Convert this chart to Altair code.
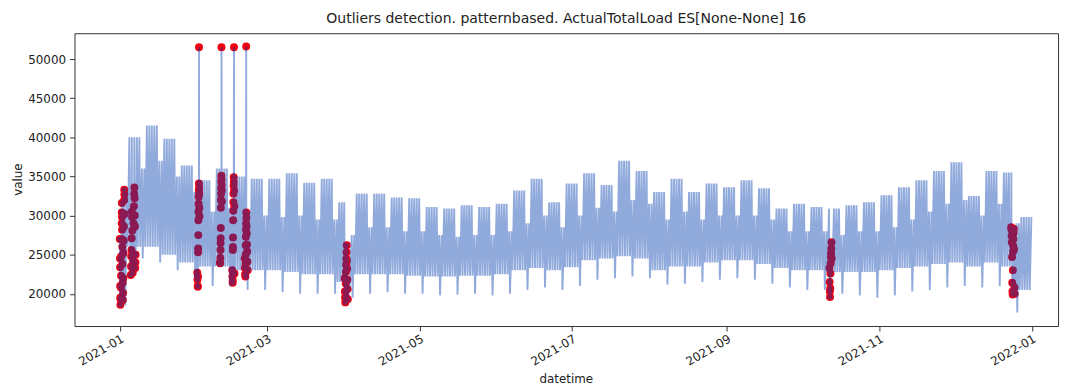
import altair as alt
import pandas as pd

# ---- weekly envelope values (weeks start Monday; first week = 2020-12-28) ----
week_peak = [31000, 40000, 41500, 39800, 36400, 34500, 36000, 35000, 34700, 34700, 35400, 34200, 34700,
             31700, 32800, 32800, 32300, 32200, 31100, 30900, 31300, 31100, 31500, 33200, 34700, 31700,
             34100, 35400, 33900, 37000, 35700, 33000, 34700, 33000, 34100, 33600, 34500, 33500, 30900,
             31500, 31100, 30900, 31300, 31700, 32600, 33600, 34500, 35700, 36800, 32500, 35700, 35500, 29800]
weekend_peak = [33000, 36000, 37000, 35000, 33000, 30500, 31000, 30500, 30000, 29800, 30000, 29500, 29500,
                27500, 28500, 28500, 28000, 28000, 27500, 27300, 27500, 27500, 28000, 29000, 30000, 28500,
                30000, 31000, 30500, 32000, 31500, 29500, 30500, 29500, 30000, 30000, 30000, 29500, 28000,
                28000, 28000, 27500, 28000, 28000, 28500, 29500, 30500, 31500, 32000, 30000, 31500, 29000, 27000]
week_trough = [19000, 26000, 26000, 25000, 24000, 23500, 23500, 23000, 23000, 23000, 22800, 22500, 22500,
               21500, 22500, 22500, 22500, 22300, 22200, 22200, 22300, 22300, 22500, 23000, 23300, 23000,
               23400, 24300, 24500, 24800, 24500, 23000, 23500, 23500, 24000, 24300, 24300, 23800, 23300,
               23000, 23000, 22800, 22800, 22800, 23000, 23300, 23500, 23800, 24000, 23500, 24000, 23500, 20500]
weekend_trough = [18500, 24500, 24000, 23000, 22000, 21000, 21000, 20500, 20500, 20200, 20000, 20000, 20000,
                  19500, 20000, 20200, 20000, 20000, 19800, 19900, 20000, 19800, 20000, 20500, 20800, 20500,
                  21000, 21800, 22000, 22200, 22000, 21200, 21300, 21500, 21800, 22000, 21800, 21300, 20800,
                  20500, 20500, 20000, 19800, 19500, 19800, 20300, 20500, 20800, 21000, 20800, 21000, 17600, 19900]

# days whose curve is given by the detected points alone
holiday_days = ["2021-01-01", "2021-01-02", "2021-04-01", "2021-04-02", "2021-10-12", "2021-12-24"]

# detected outliers (they are points of the series too)
outlier_times = [
    # Jan 1-2
    "2021-01-01T00:00", "2021-01-01T02:00", "2021-01-01T03:00", "2021-01-01T04:00", "2021-01-01T05:00",
    "2021-01-01T06:00", "2021-01-01T08:00", "2021-01-01T10:00", "2021-01-01T12:00", "2021-01-01T14:00",
    "2021-01-01T16:00", "2021-01-01T18:00", "2021-01-01T19:00", "2021-01-01T20:00", "2021-01-01T21:00",
    "2021-01-01T22:00", "2021-01-02T00:00", "2021-01-02T02:00", "2021-01-02T04:00", "2021-01-02T06:00",
    "2021-01-02T08:00", "2021-01-02T10:00", "2021-01-02T12:00", "2021-01-02T14:00", "2021-01-02T16:00",
    "2021-01-02T18:00", "2021-01-02T19:00", "2021-01-02T20:00", "2021-01-02T22:00",
    # Jan 5-7
    "2021-01-05T10:00", "2021-01-05T12:00", "2021-01-05T14:00", "2021-01-05T16:00", "2021-01-05T18:00",
    "2021-01-05T20:00", "2021-01-05T22:00", "2021-01-06T00:00", "2021-01-06T04:00", "2021-01-06T08:00",
    "2021-01-06T12:00", "2021-01-06T16:00", "2021-01-06T18:00", "2021-01-06T20:00", "2021-01-06T22:00",
    "2021-01-07T00:00", "2021-01-07T02:00", "2021-01-07T04:00", "2021-01-07T06:00", "2021-01-07T08:00",
    # Feb 1
    "2021-02-01T00:00", "2021-02-01T02:00", "2021-02-01T04:00", "2021-02-01T06:00", "2021-02-01T07:00",
    "2021-02-01T08:00", "2021-02-01T09:00", "2021-02-01T10:00", "2021-02-01T11:00", "2021-02-01T12:00",
    "2021-02-01T13:00", "2021-02-01T14:00", "2021-02-01T15:00", "2021-02-01T16:00", "2021-02-01T17:00",
    "2021-02-01T18:00", "2021-02-01T19:00", "2021-02-01T20:00", "2021-02-01T21:00",
    # Feb 10
    "2021-02-10T02:00", "2021-02-10T04:00", "2021-02-10T06:00", "2021-02-10T07:00", "2021-02-10T08:00",
    "2021-02-10T09:00", "2021-02-10T10:00", "2021-02-10T11:00", "2021-02-10T12:00", "2021-02-10T13:00",
    "2021-02-10T14:00", "2021-02-10T15:00", "2021-02-10T16:00", "2021-02-10T17:00", "2021-02-10T18:00",
    "2021-02-10T19:00", "2021-02-10T20:00", "2021-02-10T21:00",
    # Feb 15
    "2021-02-15T00:00", "2021-02-15T02:00", "2021-02-15T04:00", "2021-02-15T05:00", "2021-02-15T06:00",
    "2021-02-15T07:00", "2021-02-15T08:00", "2021-02-15T09:00", "2021-02-15T10:00", "2021-02-15T11:00",
    "2021-02-15T12:00", "2021-02-15T13:00", "2021-02-15T14:00", "2021-02-15T15:00", "2021-02-15T17:00",
    "2021-02-15T18:00", "2021-02-15T20:00", "2021-02-15T22:00",
    # Feb 20-21
    "2021-02-20T00:00", "2021-02-20T02:00", "2021-02-20T04:00", "2021-02-20T06:00", "2021-02-20T08:00",
    "2021-02-20T09:00", "2021-02-20T10:00", "2021-02-20T11:00", "2021-02-20T12:00", "2021-02-20T13:00",
    "2021-02-20T14:00", "2021-02-20T15:00", "2021-02-20T16:00", "2021-02-20T18:00", "2021-02-20T20:00",
    "2021-02-20T22:00", "2021-02-21T00:00", "2021-02-21T02:00", "2021-02-21T04:00",
    # Apr 1-2
    "2021-04-01T00:00", "2021-04-01T02:00", "2021-04-01T04:00", "2021-04-01T06:00", "2021-04-01T08:00",
    "2021-04-01T10:00", "2021-04-01T12:00", "2021-04-01T14:00", "2021-04-01T16:00", "2021-04-01T18:00",
    "2021-04-01T20:00", "2021-04-01T22:00", "2021-04-02T00:00", "2021-04-02T02:00", "2021-04-02T04:00",
    "2021-04-02T06:00",
    # Oct 12
    "2021-10-12T00:00", "2021-10-12T02:00", "2021-10-12T04:00", "2021-10-12T06:00", "2021-10-12T08:00",
    "2021-10-12T10:00", "2021-10-12T12:00", "2021-10-12T14:00", "2021-10-12T16:00", "2021-10-12T18:00",
    "2021-10-12T20:00", "2021-10-12T22:00",
    # Dec 23-25
    "2021-12-23T18:00", "2021-12-23T20:00", "2021-12-23T22:00", "2021-12-24T00:00", "2021-12-24T02:00",
    "2021-12-24T04:00", "2021-12-24T06:00", "2021-12-24T08:00", "2021-12-24T10:00", "2021-12-24T12:00",
    "2021-12-24T14:00", "2021-12-24T16:00", "2021-12-24T18:00", "2021-12-24T20:00", "2021-12-24T22:00",
    "2021-12-25T02:00", "2021-12-25T04:00",
]
outlier_values = [
    27000, 24500, 23400, 21000, 19500, 18600, 19300, 20800, 22300, 24800, 27000, 29000, 30400, 31600, 29800,
    28200, 26000, 23800, 21400, 19200, 20100, 22000, 25200, 26800, 28600, 32000, 33300, 32700, 30200,
    22400, 23500, 24800, 25600, 27100, 30500, 29800, 28100, 22700, 24200, 29000, 31200, 32800, 33600, 32200,
    30000, 28600, 23300, 24000, 25000,
    22700, 21800, 21000, 20900, 22200, 25300, 25800, 27500, 29400, 30500, 31500, 32400, 33200, 34100, 51500,
    33600, 32800, 31000, 29900,
    24000, 23900, 24600, 25600, 26500, 27100, 28400, 31000, 32000, 32800, 33500, 34300, 35100, 51500, 34600,
    33900, 33200, 31800,
    23000, 22200, 21400, 21700, 25600, 26000, 27200, 29400, 30600, 31700, 32800, 33800, 34900, 34300, 51500,
    33200, 31200, 22600,
    24500, 23300, 22500, 22200, 23800, 25000, 26200, 27300, 28200, 29000, 51600, 30400, 29700, 28600, 27700,
    26300, 25400, 24100, 23000,
    22000, 20300, 19500, 18900, 19700, 21300, 22800, 23700, 24500, 25300, 26200, 24200, 23200, 21800, 20600,
    19300,
    23300, 21500, 20300, 19600, 20700, 22600, 23900, 24700, 25200, 25800, 26600, 24500,
    28500, 28200, 27400, 26600, 24700, 21400, 20300, 19900, 23000, 25400, 26100, 27000, 27800, 28300, 25700,
    20800, 20000,
]

x_ticks = ["2021-01-01", "2021-03-01", "2021-05-01", "2021-07-01", "2021-09-01", "2021-11-01", "2022-01-01"]
y_ticks = [20000, 25000, 30000, 35000, 40000, 45000, 50000]

# ---- build the series: a night minimum and an evening maximum per day, plus the detected points ----
first_monday = pd.Timestamp("2020-12-28")
skip = set(pd.to_datetime(holiday_days))
rows = []
for day in pd.date_range("2021-01-01", "2021-12-31", freq="D"):
    if day in skip:
        continue
    w = (day - first_monday).days // 7
    dow = day.dayofweek
    hi = week_peak[w] if dow < 5 else weekend_peak[w]
    lo = weekend_trough[w] if dow == 6 else week_trough[w]
    rows.append((day + pd.Timedelta(hours=4), lo))
    rows.append((day + pd.Timedelta(hours=20), hi))
for t, v in zip(outlier_times, outlier_values):
    rows.append((pd.Timestamp(t), v))
series = pd.DataFrame(rows, columns=["datetime", "value"]).sort_values("datetime", kind="stable")
series["datetime"] = series["datetime"].dt.strftime("%Y-%m-%dT%H:%M:00Z")

outliers = pd.DataFrame({"datetime": [t + ":00Z" for t in outlier_times], "value": outlier_values})

def ms(s):
    return int(pd.Timestamp(s, tz="UTC").value // 10**6)

x_scale = alt.Scale(type="utc", domain=[ms("2020-12-13T21:00"), ms("2022-01-11T12:00")], nice=False)
y_scale = alt.Scale(domain=[15880, 53300], nice=False, zero=False)

x_axis = alt.Axis(values=[ms(t) for t in x_ticks], format="%Y-%m", labelAngle=-30, labelAlign="right",
                  labelBaseline="top", labelPadding=2, tickSize=5, grid=False, domain=False,
                  title="datetime", titleX=495, titleY=48, titleBaseline="top", titleAnchor="middle")
y_axis = alt.Axis(values=y_ticks, format="d", tickSize=5, grid=False, domain=False, labelPadding=4,
                  title="value", titleX=-57, titleY=147, titleBaseline="middle", titleAngle=-90,
                  titleAnchor="middle")

X = alt.X("datetime:T", scale=x_scale)
Y = alt.Y("value:Q", scale=y_scale)

pts = alt.Chart(outliers).mark_circle(size=64, opacity=1, color="#F00010").encode(
    x=alt.X("datetime:T", scale=x_scale, axis=x_axis),
    y=alt.Y("value:Q", scale=y_scale, axis=y_axis),
)
line = alt.Chart(series).mark_line(color="#003AAE", opacity=0.43, strokeWidth=1.9).encode(x=X, y=Y)
# the part of each dot that the semi-transparent curve covers
cores = alt.Chart(outliers).transform_filter("datum.value < 45000").mark_circle(
    size=28, opacity=1, color="#8C1A52").encode(x=X, y=Y)

chart = alt.layer(pts, line, cores).properties(
    width=991, height=295,
    title=alt.TitleParams("Outliers detection. patternbased. ActualTotalLoad ES[None-None] 16",
                          fontSize=14.1, font="DejaVu Sans", fontWeight="normal", color="#222", offset=7),
    autosize=alt.AutoSizeParams(type="none"),
    padding={"left": 67, "top": 24, "right": 6, "bottom": 60},
).configure_view(stroke="#333", strokeWidth=1).configure_axis(
    labelFont="DejaVu Sans", titleFont="DejaVu Sans", labelFontSize=12, titleFontSize=12,
    labelColor="#222", titleColor="#222", tickColor="#333", titleFontWeight="normal",
)

chart.save("out.html", embed_options={"renderer": "svg", "actions": False})
